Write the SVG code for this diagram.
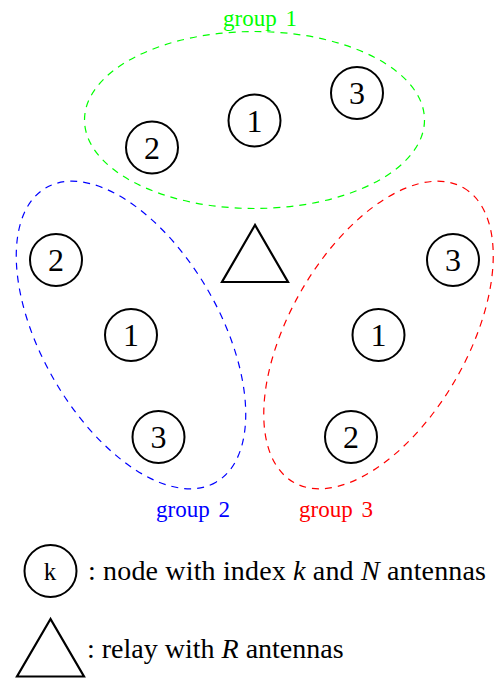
<svg xmlns="http://www.w3.org/2000/svg" width="498" height="680" viewBox="0 0 498 680">
<style>
.node{fill:#fff;stroke:#000;stroke-width:2}
.num{font-family:"Liberation Serif","DejaVu Serif",serif;font-size:32px;text-anchor:middle;fill:#000}
.grp{fill:none;stroke-width:1.2;stroke-dasharray:7 6}
.glab{font-family:"Liberation Serif","DejaVu Serif",serif;font-size:23px;text-anchor:middle;word-spacing:3px}
.leg{font-family:"Liberation Serif","DejaVu Serif",serif;font-size:28px;fill:#000}
.relay{fill:none;stroke:#000;stroke-width:2.2;stroke-linejoin:miter}
</style>
<rect width="498" height="680" fill="#fff"/>
<g id="groups">
<ellipse id="group1-region" class="grp" stroke="#00ff00" cx="254.5" cy="120" rx="170" ry="88.5"/>
<ellipse id="group2-region" class="grp" stroke="#0000ff" cx="131" cy="335" rx="170" ry="89" transform="rotate(60 131 335)"/>
<ellipse id="group3-region" class="grp" stroke="#ff0000" cx="378.5" cy="335" rx="170" ry="89" transform="rotate(-60 378.5 335)"/>
<text class="glab" fill="#00ff00" x="260" y="26">group 1</text>
<text class="glab" fill="#0000ff" x="193" y="517">group 2</text>
<text class="glab" fill="#ff0000" x="336" y="517">group 3</text>
</g>
<g id="g1n1"><circle class="node" cx="254.5" cy="120.5" r="26"/><text class="num" x="254.5" y="131.5">1</text></g>
<g id="g1n2"><circle class="node" cx="152" cy="147.5" r="26"/><text class="num" x="152" y="158.5">2</text></g>
<g id="g1n3"><circle class="node" cx="357" cy="93" r="26"/><text class="num" x="357" y="104">3</text></g>
<g id="g2n1"><circle class="node" cx="131" cy="335" r="26"/><text class="num" x="131" y="346">1</text></g>
<g id="g2n2"><circle class="node" cx="56" cy="260" r="26"/><text class="num" x="56" y="271">2</text></g>
<g id="g2n3"><circle class="node" cx="158.5" cy="437" r="26"/><text class="num" x="158.5" y="448">3</text></g>
<g id="g3n1"><circle class="node" cx="378.5" cy="335" r="26"/><text class="num" x="378.5" y="346">1</text></g>
<g id="g3n2"><circle class="node" cx="351" cy="437" r="26"/><text class="num" x="351" y="448">2</text></g>
<g id="g3n3"><circle class="node" cx="453" cy="260" r="26"/><text class="num" x="453" y="271">3</text></g>
<g id="relay"><polygon class="relay" points="255,225 222,282 288,282"/></g>
<g id="legend">
<g id="legend-node"><circle class="node" cx="50.5" cy="571" r="26"/><text x="50" y="580" font-family="Liberation Serif, serif" font-size="25" text-anchor="middle">k</text></g>
<text class="leg" x="88" y="580" textLength="398" lengthAdjust="spacing">: node with index <tspan font-style="italic">k</tspan> and <tspan font-style="italic">N</tspan> antennas</text>
<g id="legend-relay"><polygon class="relay" points="50.5,619 17,676.5 84,676.5"/></g>
<text class="leg" x="87" y="658">: relay with <tspan font-style="italic">R</tspan> antennas</text>
</g>
</svg>
